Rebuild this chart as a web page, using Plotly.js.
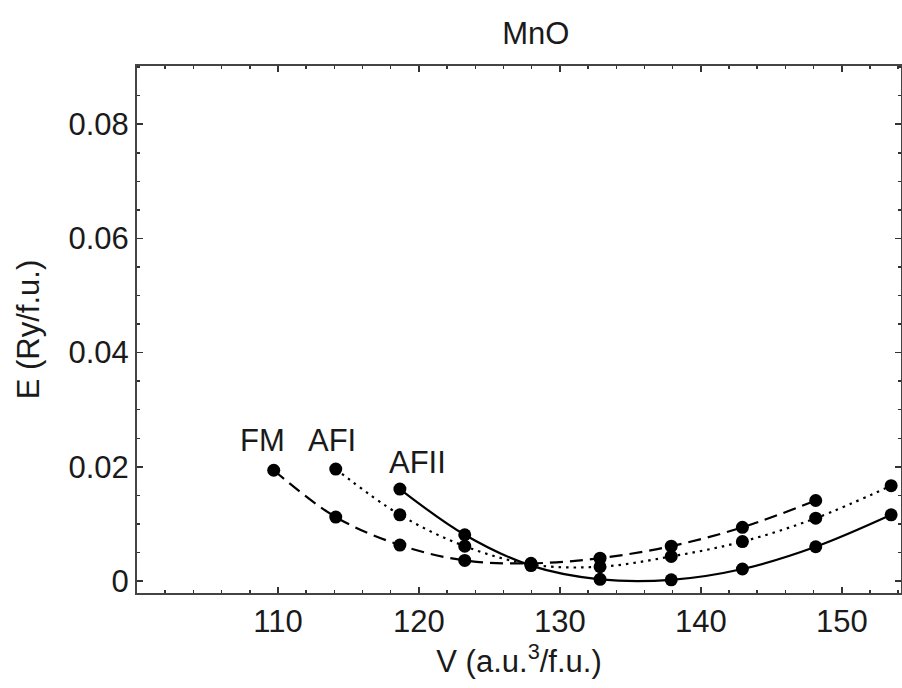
<!DOCTYPE html>
<html>
<head>
<meta charset="utf-8">
<script src="https://cdn.plot.ly/plotly-3.0.1.min.js"></script>
<style>html,body{margin:0;padding:0;background:#fff;}#chart{width:902px;height:688px;}</style>
</head>
<body>
<div id="chart"></div>
<script>
// Volumes (a.u.^3 / f.u.) and energies (Ry / f.u.)
const volFM   = [109.7, 114.1, 118.65, 123.25, 127.95, 132.85, 137.9, 142.95, 148.15];
const eFM     = [0.0194, 0.0112, 0.0063, 0.0036, 0.0031, 0.0040, 0.0061, 0.0094, 0.0141];
const volAFI  = [114.1, 118.65, 123.25, 127.95, 132.85, 137.9, 142.95, 148.15, 153.5];
const eAFI    = [0.0196, 0.0116, 0.0061, 0.0029, 0.0025, 0.0043, 0.0069, 0.0110, 0.0167];
const volAFII = [118.65, 123.25, 127.95, 132.85, 137.9, 142.95, 148.15, 153.5];
const eAFII   = [0.0161, 0.0081, 0.0027, 0.0003, 0.0002, 0.0021, 0.0060, 0.0116];
const phaseNames = ['FM', 'AFI', 'AFII'];
const labelX = [108.87, 113.83, 119.93];
const labelY = [0.0246, 0.0246, 0.0207];
const xTicks = [110, 120, 130, 140, 150];
const yTicks = [0, 0.02, 0.04, 0.06, 0.08];
const yTickText = ['0', '0.02', '0.04', '0.06', '0.08'];

const FONT = 'Liberation Sans, Arial, sans-serif';
function trace(x, y, name, dash) {
  return {
    x: x, y: y, name: name, type: 'scatter', mode: 'lines+markers',
    line: {color: '#000', width: 2.2, dash: dash, shape: 'spline', smoothing: 1},
    marker: {color: '#000', size: 13, symbol: 'circle'},
    showlegend: false, hoverinfo: 'x+y+name'
  };
}
const data = [
  trace(volFM, eFM, phaseNames[0], '13px,7px'),
  trace(volAFI, eAFI, phaseNames[1], '2.5px,5px'),
  trace(volAFII, eAFII, phaseNames[2], 'solid')
];
const annotations = phaseNames.map((t, i) => ({
  x: labelX[i], y: labelY[i], xref: 'x', yref: 'y', text: t, showarrow: false,
  xanchor: 'center', yanchor: 'middle', font: {family: FONT, size: 31, color: '#1a1a1a'}
}));
const layout = {
  width: 902, height: 688,
  margin: {l: 137, r: 1, t: 66, b: 95},
  paper_bgcolor: '#fff', plot_bgcolor: '#fff',
  font: {family: FONT, color: '#1a1a1a'},
  title: {text: 'MnO', x: 0.522, xref: 'paper', xanchor: 'center', y: 0.952, yref: 'container', yanchor: 'middle',
          font: {family: FONT, size: 31, color: '#1a1a1a'}},
  xaxis: {
    range: [100, 154.2], tickvals: xTicks, ticks: 'inside', ticklen: 6, tickwidth: 1.5, tickcolor: '#333',
    showline: true, linecolor: '#444', linewidth: 2, mirror: 'allticks', showgrid: false, zeroline: false,
    minor: {dtick: 2, tick0: 100, ticks: 'inside', ticklen: 3, tickcolor: '#333', showgrid: false},
    tickfont: {family: FONT, size: 31, color: '#1a1a1a'},
    title: {text: 'V (a.u.<sup>3</sup>/f.u.)', font: {family: FONT, size: 31, color: '#1a1a1a'}, standoff: 8}
  },
  yaxis: {
    range: [-0.0021, 0.0902], tickvals: yTicks, ticktext: yTickText, ticks: 'inside', ticklen: 6, tickwidth: 1.5, tickcolor: '#333',
    showline: true, linecolor: '#444', linewidth: 2, mirror: 'allticks', showgrid: false, zeroline: false,
    minor: {dtick: 0.005, tick0: 0, ticks: 'inside', ticklen: 3, tickcolor: '#333', showgrid: false},
    tickfont: {family: FONT, size: 31, color: '#1a1a1a'},
    title: {text: 'E (Ry/f.u.)', font: {family: FONT, size: 31, color: '#1a1a1a'}, standoff: 20}
  },
  annotations: annotations
};
Plotly.newPlot('chart', data, layout, {displayModeBar: false, staticPlot: true});
</script>
</body>
</html>
